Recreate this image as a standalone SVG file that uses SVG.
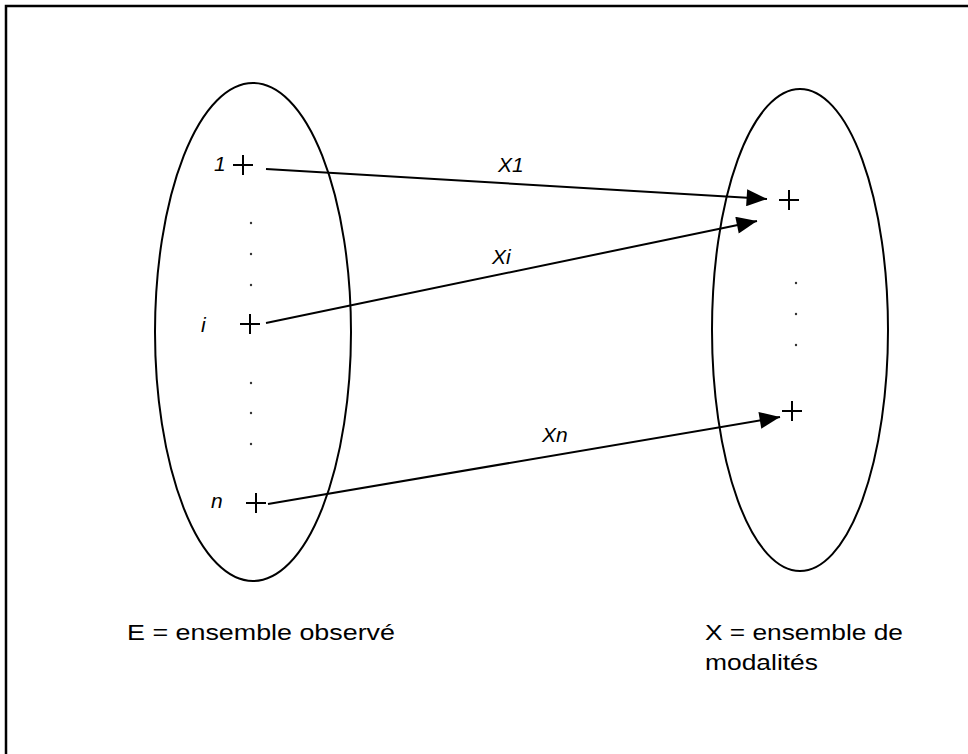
<svg xmlns="http://www.w3.org/2000/svg" width="968" height="754" viewBox="0 0 968 754">
<style>
.ell{fill:none;stroke:#000;stroke-width:2}
.pl{stroke:#000;stroke-width:2;fill:none}
.ln{stroke:#000;stroke-width:2;fill:none}
.lab{font-family:"Liberation Sans",Arial,sans-serif;font-size:21px;font-style:italic;fill:#000}
.txt{font-family:"Liberation Sans",Arial,sans-serif;font-size:22px;fill:#000}
.dot{fill:#333}
</style>
<defs>
<marker id="ahb" viewBox="0 0 12 10" refX="12" refY="5" markerWidth="22" markerHeight="17" markerUnits="userSpaceOnUse" orient="auto">
<path d="M0,0 L12,5 L0,10 Z" fill="#000"/>
</marker>
</defs>
<rect width="968" height="754" fill="#fff"/>
<path d="M6,754 L6,6 L968,6" fill="none" stroke="#000" stroke-width="2.5"/>
<g id="E">
<ellipse class="ell" cx="253" cy="332" rx="98" ry="249"/>
<g id="e1"><text class="lab" x="214" y="171">1</text><path class="pl" d="M233,165 h20 M243,155 v20"/></g>
<g id="ei"><text class="lab" x="201" y="332">i</text><path class="pl" d="M240,324 h20 M250,314 v20"/></g>
<g id="en"><text class="lab" x="211" y="508">n</text><path class="pl" d="M246,503 h20 M256,493 v20"/></g>
<circle class="dot" cx="251" cy="223" r="1.2"/>
<circle class="dot" cx="251" cy="254" r="1.2"/>
<circle class="dot" cx="251" cy="285" r="1.2"/>
<circle class="dot" cx="251" cy="383" r="1.2"/>
<circle class="dot" cx="251" cy="413" r="1.2"/>
<circle class="dot" cx="251" cy="444" r="1.2"/>
</g>
<g id="X">
<ellipse class="ell" cx="800" cy="330" rx="88" ry="241"/>
<g id="x1"><path class="pl" d="M779,200 h20 M789,190 v20"/></g>
<g id="xn"><path class="pl" d="M782,411 h20 M792,401 v20"/></g>
<circle class="dot" cx="796" cy="283" r="1.2"/>
<circle class="dot" cx="796" cy="314" r="1.2"/>
<circle class="dot" cx="796" cy="345" r="1.2"/>
</g>
<g id="connectors">
<line class="ln" x1="266" y1="169" x2="767" y2="199" marker-end="url(#ahb)"/>
<line class="ln" x1="266" y1="323" x2="757" y2="221" marker-end="url(#ahb)"/>
<line class="ln" x1="268" y1="504" x2="780" y2="417" marker-end="url(#ahb)"/>
<text class="lab" x="498" y="172">X1</text>
<text class="lab" x="492" y="264">Xi</text>
<text class="lab" x="542" y="442">Xn</text>
</g>
<g id="labels">
<text class="txt" x="127" y="640" textLength="268" lengthAdjust="spacingAndGlyphs">E = ensemble observé</text>
<text class="txt" x="705" y="640" textLength="198" lengthAdjust="spacingAndGlyphs">X = ensemble de</text>
<text class="txt" x="705" y="670" textLength="113" lengthAdjust="spacingAndGlyphs">modalités</text>
</g>
</svg>
